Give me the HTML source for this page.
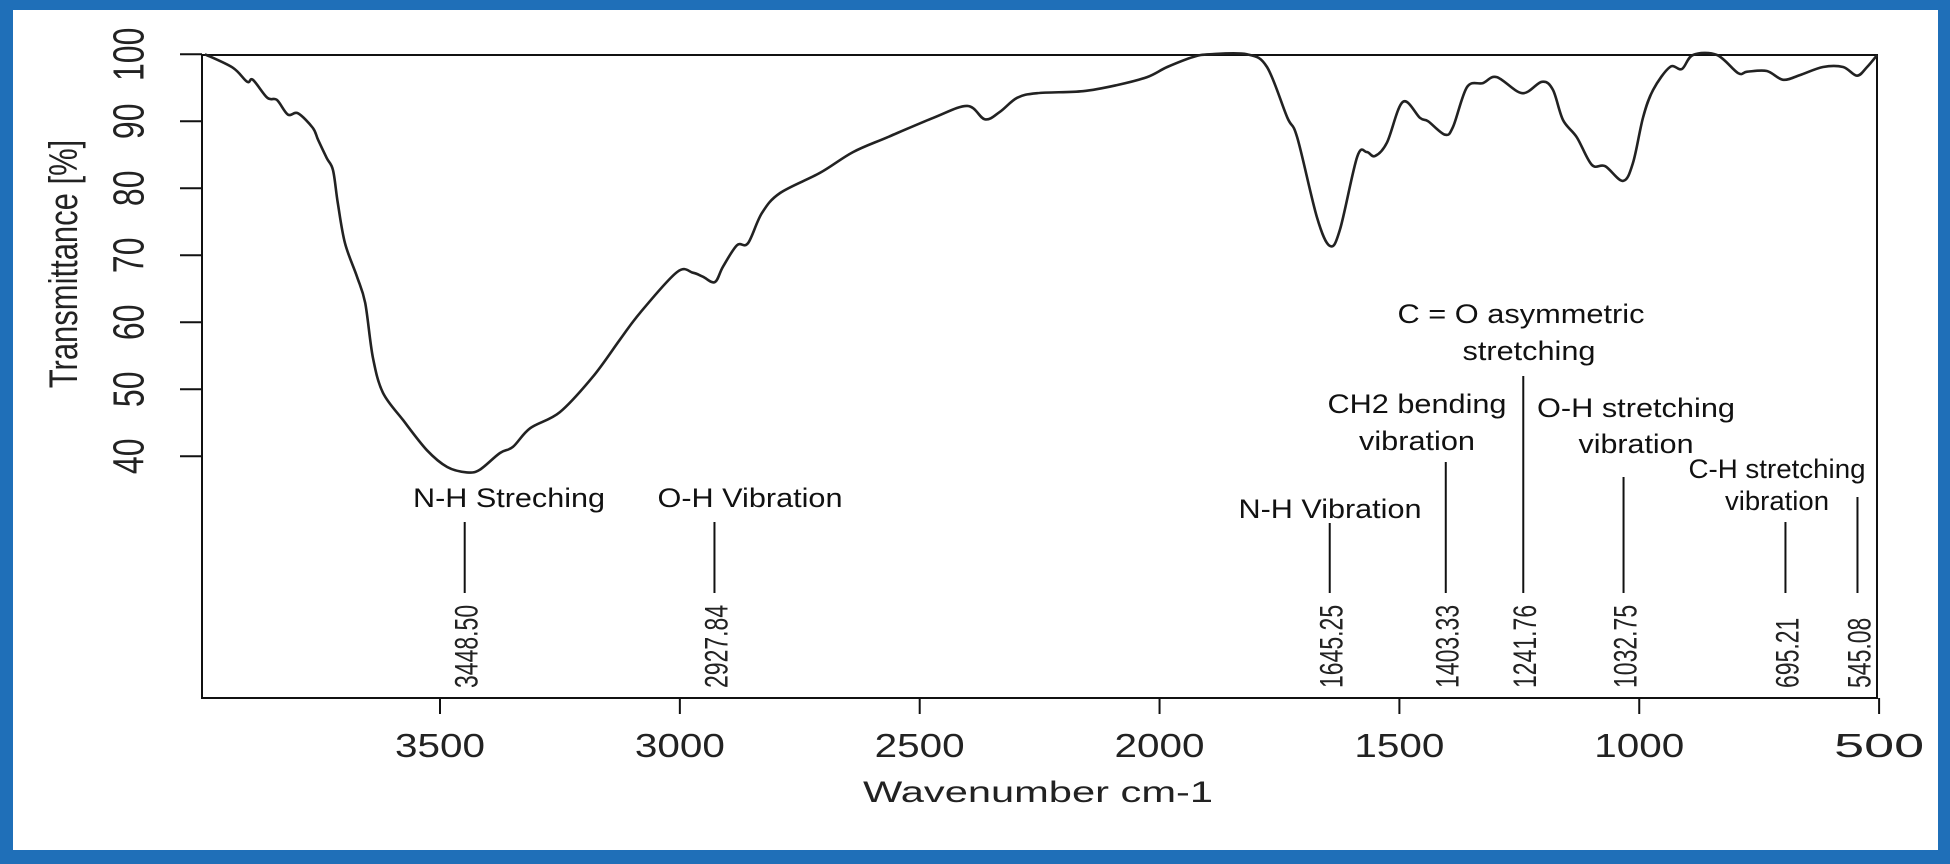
<!DOCTYPE html>
<html><head><meta charset="utf-8"><style>
html,body{margin:0;padding:0;background:#fff;}
svg{display:block;font-family:"Liberation Sans",Arial,sans-serif;}
</style></head><body>
<svg id="chart" width="1950" height="864" viewBox="0 0 1950 864" xmlns="http://www.w3.org/2000/svg">
<rect x="0" y="0" width="1950" height="864" fill="#fff"/>
<rect x="0" y="0" width="1950" height="10" fill="#1f6fb8"/>
<rect x="0" y="0" width="13" height="864" fill="#1f6fb8"/>
<rect x="1938" y="0" width="12" height="864" fill="#1f6fb8"/>
<rect x="0" y="850" width="1950" height="14" fill="#1f6fb8"/>
<g id="plot"></g>
</svg>
<script>
const wavenumbers=[3990,3932,3902,3890,3860,3840,3817,3796,3765,3754,3736,3723,3713,3698,3673,3656,3640,3619,3577,3527,3485,3444,3417,3375,3348,3312,3250,3181,3125,3083,3006,2973,2952,2927,2910,2881,2858,2829,2791,2708,2639,2568,2472,2401,2364,2333,2297,2255,2160,2089,2026,1984,1930,1895,1818,1776,1734,1713,1672,1645,1624,1588,1568,1551,1526,1493,1457,1440,1405,1388,1359,1326,1297,1244,1203,1180,1159,1130,1099,1071,1034,1013,992,971,936,911,888,838,794,775,734,700,665,617,575,546,525,504];
const transmittance=[100,98.0,95.9,96.2,93.5,93.2,91.0,91.2,89.0,87.2,84.5,82.7,77.8,71.8,66.8,62.9,54.8,49.5,45.4,40.9,38.4,37.6,38.0,40.5,41.4,44.2,46.6,51.9,57.4,61.4,67.5,67.4,66.8,66.0,68.3,71.5,71.8,76.3,79.3,82.3,85.4,87.6,90.5,92.3,90.3,91.4,93.5,94.2,94.5,95.4,96.6,98.1,99.6,100,100,98.1,90.6,87.6,75.7,71.4,73.8,84.7,85.4,84.8,86.8,92.9,90.5,90.0,88.0,89.2,95.1,95.7,96.6,94.2,95.9,94.7,90.2,87.6,83.5,83.3,81.1,83.8,90.6,94.7,98.1,97.8,99.9,99.9,97.2,97.4,97.5,96.2,96.9,98.1,98.1,96.8,98.1,99.9];
const xTicks=[3500,3000,2500,2000,1500,1000,500];
const yTicks=[40,50,60,70,80,90,100];
const peakPositions=[3448.50,2927.84,1645.25,1403.33,1241.76,1032.75,695.21,545.08];
const peakLabels=["3448.50","2927.84","1645.25","1403.33","1241.76","1032.75","695.21","545.08"];
const peakNames=[["N-H Streching"],["O-H Vibration"],["N-H Vibration"],["CH2 bending","vibration"],["C = O asymmetric","stretching"],["O-H stretching","vibration"],["C-H stretching","vibration"],[]];

const NS="http://www.w3.org/2000/svg";
const L=202,R=1877,T=55,B=698;
function xs(w){return 440+(3500-w)*0.4797;}
function ys(v){return 54.3+(100-v)*6.7;}
const g=document.getElementById('plot');
function mk(tag,attrs,parent){const e=document.createElementNS(NS,tag);for(const k in attrs)e.setAttribute(k,attrs[k]);(parent||g).appendChild(e);return e;}

const box=mk('rect',{x:L,y:T,width:R-L,height:B-T,fill:'none',stroke:'#111','stroke-width':2});



yTicks.forEach(v=>{
  const t=mk('line',{x1:180,x2:L,y1:ys(v),y2:ys(v),stroke:'#111','stroke-width':2});
  
  
  const tx=mk('text',{transform:`translate(130,${ys(v)}) scale(1.35,1) rotate(-90)`,'text-anchor':'middle','dominant-baseline':'central','font-size':32,fill:'#222'});
  tx.textContent=String(v);
  
  
});
const yt=mk('text',{transform:'translate(63,264) scale(1.3,1) rotate(-90)','text-anchor':'middle','dominant-baseline':'central','font-size':31,fill:'#222'});
yt.textContent='Transmittance [%]';



xTicks.forEach(w=>{
  const t=mk('line',{x1:xs(w),x2:xs(w),y1:B,y2:714,stroke:'#111','stroke-width':2});
  
  
  const tx=mk('text',{x:xs(w),y:757,'text-anchor':'middle','font-size':33,textLength:90,lengthAdjust:'spacingAndGlyphs',fill:'#222'});
  tx.textContent=String(w);
  
  
});
const xt=mk('text',{x:1038,y:802,'text-anchor':'middle','font-size':30,textLength:350,lengthAdjust:'spacingAndGlyphs',fill:'#222'});
xt.textContent='Wavenumber cm-1';



// smooth spectrum (Catmull-Rom)
const P=wavenumbers.map((w,i)=>[xs(w),ys(transmittance[i])]);
let d='M'+P[0][0].toFixed(1)+','+P[0][1].toFixed(1);
for(let i=0;i<P.length-1;i++){
  const p0=P[Math.max(0,i-1)],p1=P[i],p2=P[i+1],p3=P[Math.min(P.length-1,i+2)];
  const c1x=p1[0]+(p2[0]-p0[0])/6,c1y=p1[1]+(p2[1]-p0[1])/6;
  const c2x=p2[0]-(p3[0]-p1[0])/6,c2y=p2[1]-(p3[1]-p1[1])/6;
  d+=` C${c1x.toFixed(1)},${c1y.toFixed(1)} ${c2x.toFixed(1)},${c2y.toFixed(1)} ${p2[0].toFixed(1)},${p2[1].toFixed(1)}`;
}
const line=mk('path',{d:d,fill:'none',stroke:'#222','stroke-width':2.6,'stroke-linejoin':'round'});



const leaderTops=[522,522,523,462,376,477,522,497];
const nameLayout=[[[509,507,192]],[[750,507,185]],[[1330,518,183]],[[1417,413,179],[1417,450,116]],[[1521,323,247],[1529,360,133]],[[1636,417,198],[1636,453,115]],[[1777,478,177],[1777,510,104]],[]];
peakPositions.forEach((w,i)=>{
  const x=xs(w);
  const ln=mk('line',{x1:x,x2:x,y1:leaderTops[i],y2:593,stroke:'#111','stroke-width':2});
  
  
  const pl=mk('text',{transform:`translate(${x+2},688) scale(1.4,1) rotate(-90)`,'text-anchor':'start','dominant-baseline':'central','font-size':23,fill:'#222'});
  pl.textContent=peakLabels[i];
  
  
  peakNames[i].forEach((s,j)=>{
    const [cx,by,len]=nameLayout[i][j];
    const t=mk('text',{x:cx,y:by,'text-anchor':'middle','font-size':27,textLength:len,lengthAdjust:'spacingAndGlyphs',fill:'#111'});
    t.textContent=s;
    
    
  });
});
</script>
</body></html>
